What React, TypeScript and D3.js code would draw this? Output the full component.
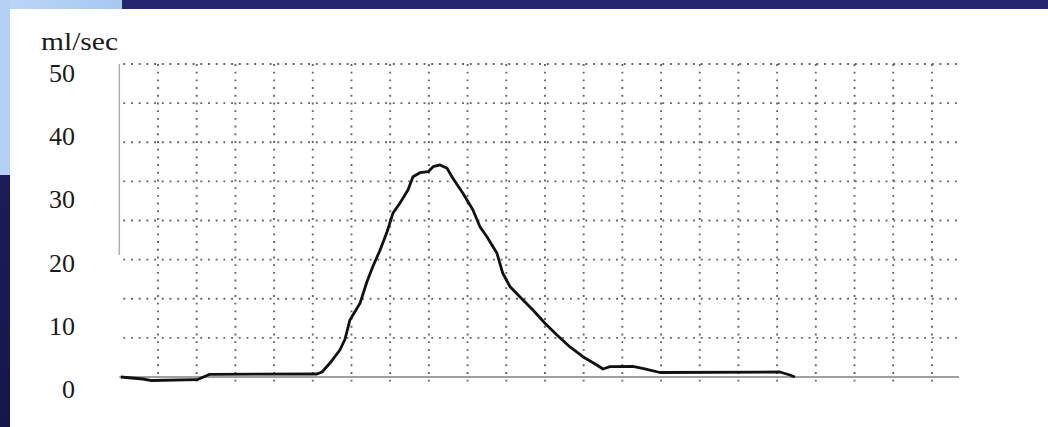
import React from "react";
import * as d3 from "d3";

// flow trace, time in grid divisions, flow in ml/sec
const times = [
  0.04, 0.61, 0.84, 2.01, 2.34, 5.11, 5.24, 5.44, 5.7, 5.83, 5.96, 6.22, 6.4,
  6.55, 6.74, 6.92, 7.07, 7.25, 7.46, 7.59, 7.77, 7.98, 8.11, 8.29, 8.47, 8.62,
  8.88, 9.14, 9.32, 9.5, 9.76, 9.91, 10.1, 10.35, 10.69, 11.0, 11.31, 11.64,
  11.98, 12.34, 12.5, 12.68, 13.27, 13.58, 13.97, 17.07, 17.33, 17.46,
];
const flow = [
  0, -0.32, -0.56, -0.43, 0.43, 0.48, 0.8, 2.19, 4.31, 5.99, 9.11, 11.77,
  15.22, 17.62, 20.29, 23.21, 26.15, 27.75, 29.87, 32.0, 32.64, 32.8, 33.59,
  33.87, 33.34, 31.74, 29.35, 26.68, 24.01, 22.41, 19.76, 16.57, 14.42, 12.83,
  10.7, 8.58, 6.71, 4.84, 3.24, 1.92, 1.28, 1.65, 1.68, 1.28, 0.72, 0.8, 0.32,
  0,
];
const yTickLabels = [0, 10, 20, 30, 40, 50];
const xGrid = d3.range(0, 22);
const yGrid = d3.range(0, 9).map((i) => (i * 50) / 8);

const W = 1048;
const H = 427;

const App = () => {
  const x = d3.scaleLinear().domain([0, 21.7]).range([119.3, 959]);
  const y = d3.scaleLinear().domain([0, 50]).range([377, 64]);
  // the printed numbers sit on their own spacing, not on the grid
  const yLabel = d3.scaleLinear().domain([0, 50]).range([398, 82]);

  const points: [number, number][] = times.map((t, i) => [t, flow[i]]);
  const line = d3
    .line<[number, number]>()
    .x((d) => x(d[0]))
    .y((d) => y(d[1]));

  const dots = { stroke: "#666", strokeWidth: 1.9, strokeDasharray: "1.9 5.8" };

  return (
    <>
      <style>{`body{margin:0}`}</style>
      <svg width={W} height={H} style={{ display: "block" }}>
        <defs>
          <linearGradient id="lightBlue" x1="0" x2="1" y1="0" y2="0">
            <stop offset="0" stopColor="#bcd6f7" />
            <stop offset="1" stopColor="#a8c8f1" />
          </linearGradient>
          <linearGradient id="navy" x1="0" x2="0" y1="0" y2="1">
            <stop offset="0" stopColor="#221f63" />
            <stop offset="1" stopColor="#16164a" />
          </linearGradient>
        </defs>
        <rect x={0} y={0} width={W} height={H} fill="url(#navy)" />
        <rect x={122} y={0} width={W - 122} height={9} fill="#25246e" />
        <rect x={0} y={0} width={122} height={9} fill="url(#lightBlue)" />
        <rect x={0} y={0} width={10} height={175} fill="#b4d0f5" />
        <rect x={10} y={9} width={W - 10} height={H - 9} fill="#ffffff" />

        {yGrid.slice(1).map((v) => (
          <line key={"h" + v} x1={x(0) + 4} x2={x(21.7)} y1={y(v)} y2={y(v)} style={dots} />
        ))}
        {xGrid.slice(1).map((t) => (
          <line key={"v" + t} x1={x(t)} x2={x(t)} y1={y(50)} y2={y(-1)} style={dots} />
        ))}
        <line x1={x(0)} x2={x(0)} y1={y(50)} y2={y(19.5)} stroke="#b0b0b0" strokeWidth={1.5} />
        <line x1={x(0)} x2={x(21.7)} y1={y(0)} y2={y(0)} stroke="#a0a0a0" strokeWidth={2} />

        <path
          d={line(points) || ""}
          fill="none"
          stroke="#111"
          strokeWidth={2.8}
          strokeLinejoin="round"
        />

        <g fontFamily="'Liberation Serif', 'DejaVu Serif', serif" fill="#1a1a1a" fontSize={26}>
          <text x={41} y={50} textLength={77} lengthAdjust="spacingAndGlyphs">
            ml/sec
          </text>
          {yTickLabels.map((v) => (
            <text key={v} x={75} y={yLabel(v)} textAnchor="end">
              {v}
            </text>
          ))}
        </g>
      </svg>
    </>
  );
};

export default App;
